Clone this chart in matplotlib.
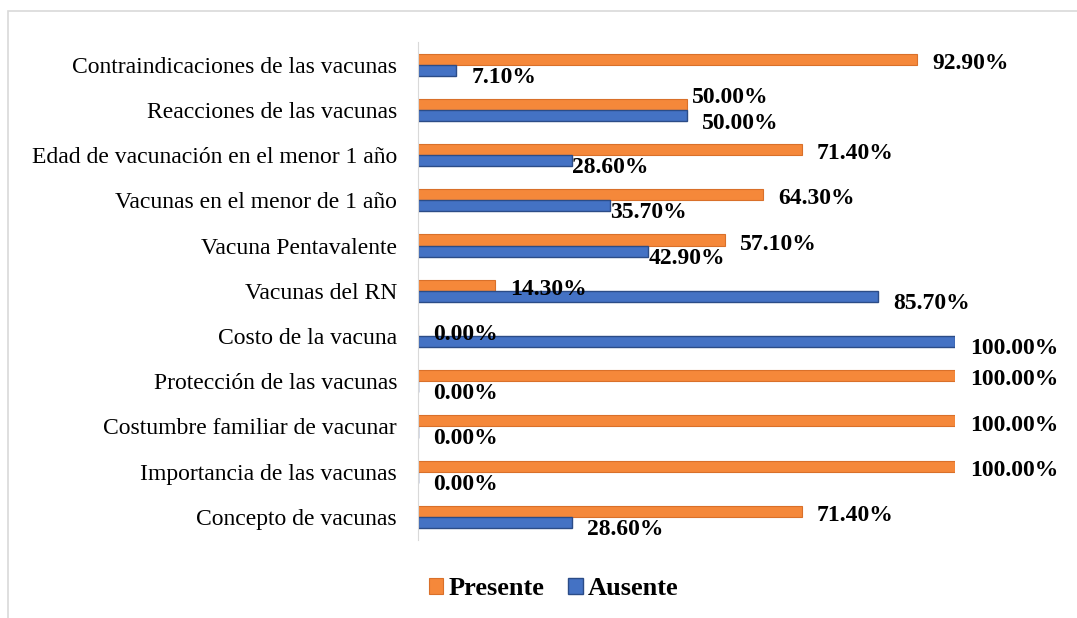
import numpy as np
import matplotlib.pyplot as plt
from matplotlib.patches import Rectangle

# Categories, bottom to top as drawn on the y axis
categories = [
    'Concepto de vacunas',
    'Importancia de las vacunas',
    'Costumbre familiar de vacunar',
    'Protección de las vacunas',
    'Costo de la vacuna',
    'Vacunas del RN',
    'Vacuna Pentavalente',
    'Vacunas en el menor de 1 año',
    'Edad de vacunación en el menor 1 año',
    'Reacciones de las vacunas',
    'Contraindicaciones de las vacunas',
]
presente = [71.4, 100.0, 100.0, 100.0, 0.0, 14.3, 57.1, 64.3, 71.4, 50.0, 92.9]
ausente = [28.6, 0.0, 0.0, 0.0, 100.0, 85.7, 42.9, 35.7, 28.6, 50.0, 7.1]

# label nudges (points) to mimic Excel's overlap avoidance for the blue labels
ausente_dx = [11, 11, 11, 11, 11, 11, 0, 0, 0, 11, 11]

orange = '#F5883A'
blue = '#4472C4'

plt.rcParams['font.family'] = 'Liberation Serif'

fig = plt.figure(figsize=(10.77, 6.18), dpi=100)
ax = fig.add_axes([0.388, 0.127, 0.499, 0.805])

y = np.arange(len(categories))
h = 0.245
ax.barh(y + h / 2, presente, height=h, color=orange, edgecolor='#D9702A', linewidth=0.8, label='Presente')
ax.barh(y - h / 2, ausente, height=h, color=blue, edgecolor='#2B4C87', linewidth=1.0, label='Ausente')

# Data labels
for yi, p, a, dx in zip(y, presente, ausente, ausente_dx):
    py, ay, pdx = -3, -5, 11
    if abs(p - a) < 1:
        # equal bars: Excel stacks the two labels apart
        py, ay, pdx, dx = 5, -6, 4, 11
    ax.annotate(f'{p:.2f}%', (p, yi + h / 2), xytext=(pdx, py), textcoords='offset points',
                ha='left', va='center', fontsize=17, fontweight='bold')
    ax.annotate(f'{a:.2f}%', (a, yi - h / 2), xytext=(dx, ay),
                textcoords='offset points', ha='left', va='center', fontsize=17, fontweight='bold')

ax.set_xlim(0, 100)
ax.set_ylim(-0.5, len(categories) - 0.5)
ax.set_yticks(y)
ax.set_yticklabels(categories, fontsize=17)
ax.set_xticks([])
ax.tick_params(axis='y', length=0, pad=15)
for side in ['top', 'right', 'bottom']:
    ax.spines[side].set_visible(False)
ax.spines['left'].set_color('#D9D9D9')

leg = fig.legend(loc='center', bbox_to_anchor=(0.514, 0.047), ncol=2, frameon=False,
                 prop={'size': 19, 'weight': 'bold'}, handlelength=0.55, handleheight=0.55,
                 handletextpad=0.2, columnspacing=0.9)

# Light gray chart border
fig.patches.append(Rectangle((8 / 1077, -0.05), 1.1, 1 - 11 / 618 + 0.05, transform=fig.transFigure,
                             fill=False, edgecolor='#D9D9D9', linewidth=1.2))

fig.savefig('out.png', dpi=100)
